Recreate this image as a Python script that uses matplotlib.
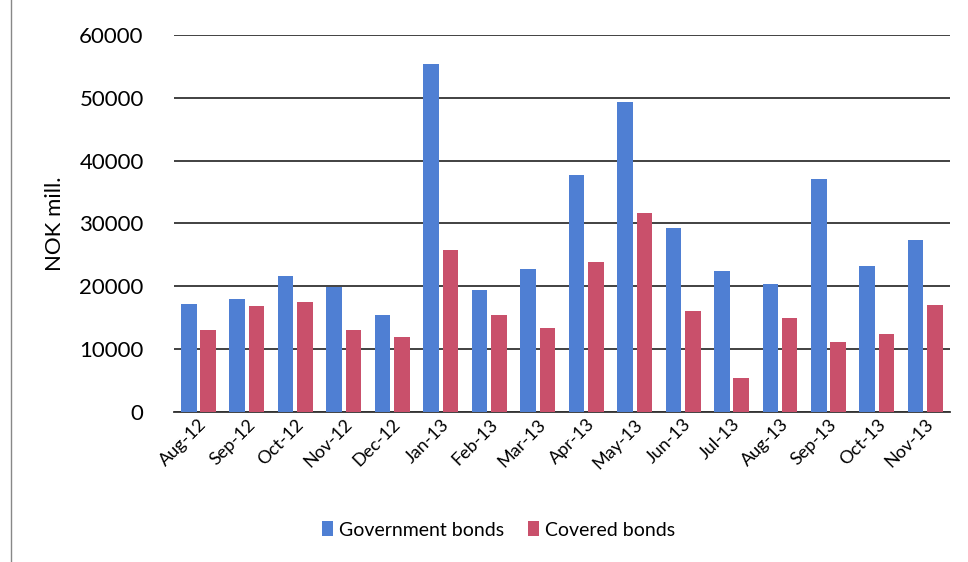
import matplotlib.pyplot as plt
import numpy as np
from matplotlib.lines import Line2D

plt.rcParams["font.family"] = ["Lato", "DejaVu Sans"]

months = ["Aug-12", "Sep-12", "Oct-12", "Nov-12", "Dec-12", "Jan-13", "Feb-13", "Mar-13",
          "Apr-13", "May-13", "Jun-13", "Jul-13", "Aug-13", "Sep-13", "Oct-13", "Nov-13"]
government = [17100, 18050, 21700, 19900, 15500, 55400, 19400, 22800,
              37700, 49300, 29300, 22500, 20300, 37100, 23200, 27400]
covered = [13000, 16900, 17500, 13000, 11850, 25800, 15500, 13400,
           23900, 31600, 16000, 5400, 14900, 11200, 12400, 17000]
yticks = [0, 10000, 20000, 30000, 40000, 50000, 60000]

fig = plt.figure(figsize=(9.68, 5.62), dpi=100)
ax = fig.add_axes([0.18, 0.267, 0.801, 0.671])

x = np.arange(len(months))
width = 0.32
ax.bar(x - 0.2, government, width, color="#4F7FD3", label="Government bonds", zorder=3)
ax.bar(x + 0.2, covered, width, color="#C9506B", label="Covered bonds", zorder=3)

ax.set_xlim(-0.5, len(months) - 0.5)
ax.set_ylim(0, 60000)
ax.set_yticks(yticks)
ax.set_yticklabels([str(v) for v in yticks], fontsize=16)
ax.grid(axis="y", color="#333333", linewidth=1.3, zorder=0)
for side in ["top", "right", "left"]:
    ax.spines[side].set_visible(False)
ax.spines["bottom"].set_color("#333333")
ax.spines["bottom"].set_linewidth(1.3)
ax.tick_params(axis="y", length=0, pad=22)
ax.tick_params(axis="x", length=0, pad=3)
ax.set_xticks(x)
ax.set_xticklabels(months, rotation=45, ha="right", rotation_mode="anchor", fontsize=13)
ax.set_ylabel("NOK mill.", fontsize=16, labelpad=10)

fig.legend(loc="center", bbox_to_anchor=(0.515, 0.057), ncol=2, frameon=False,
           fontsize=14, handlelength=0.6, handleheight=0.8, handletextpad=0.3,
           columnspacing=1.2)

fig.add_artist(Line2D([0.011, 0.011], [0, 1], color="#888888", linewidth=1))

fig.savefig("out.png", dpi=100)
